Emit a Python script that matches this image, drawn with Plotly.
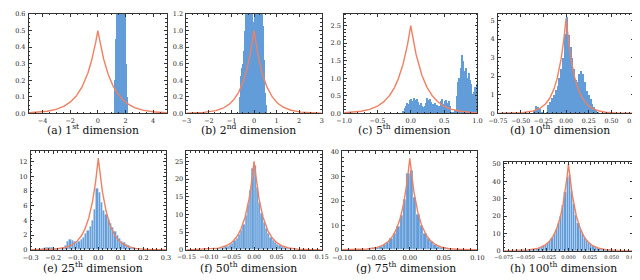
import numpy as np
import plotly.graph_objects as go

# ---------------- data ----------------
captions = ["(a) 1<sup>st</sup> dimension", "(b) 2<sup>nd</sup> dimension",
            "(c) 5<sup>th</sup> dimension", "(d) 10<sup>th</sup> dimension",
            "(e) 25<sup>th</sup> dimension", "(f) 50<sup>th</sup> dimension",
            "(g) 75<sup>th</sup> dimension", "(h) 100<sup>th</sup> dimension"]

# peak height of the reference Laplace density in each panel
laplace_peak = [0.5, 1.0, 2.5, 5.1, 12.5, 25.0, 37.5, 50.0]

# histogram bins: first edge, bin width, heights
a_start, a_width = 1.2, 0.05
a_values = [0.2, 0.45, 0.9, 1.5, 2.0, 2.3, 2.5, 2.4, 2.2, 2.3, 2.1, 1.9, 1.6, 1.2, 0.9, 0.5, 0.3, 0.1]

b_start, b_width = -0.625, 0.025
b_values = [0.2, 0.45, 0.35, 0.55, 0.45, 0.6, 0.55, 0.75, 0.8, 1.0, 1.15, 1.4, 0.8, 0.75,
            1.5, 1.8, 1.4, 2.0, 1.7, 1.9, 1.6, 2.1, 1.8, 1.1, 1.05, 1.1, 1.9, 1.7, 0.85, 0.9,
            2.0, 1.8, 2.1, 1.7, 1.9, 1.6, 1.5, 1.4, 1.3, 1.25, 1.2, 1.05, 0.85, 0.65, 0.45,
            0.25, 0.1]

c_start, c_width = -0.12, 0.02
c_values = [0.08, 0.15, 0.2, 0.3, 0.28, 0.38, 0.42, 0.35, 0.45, 0.38, 0.42, 0.32, 0.25, 0.3,
            0.22, 0.18, 0.2, 0.3, 0.45, 0.38, 0.42, 0.32, 0.28, 0.22, 0.3, 0.25, 0.18, 0.22,
            0.35, 0.4, 0.28, 0.35, 0.38, 0.3, 0.35, 0.2, 0.05, 0.02, 0.03, 0.1, 0.5, 0.9,
            1.0, 1.3, 1.65, 1.5, 1.2, 1.3, 1.0, 1.15, 0.95, 0.85, 0.55, 0.6, 0.75, 0.85]

d_start, d_width = -0.36, 0.02
d_values = [0.15, 0.4, 0.35, 0.25, 0.1, 0.03, 0.02, 0.1, 0.45, 0.6, 0.85, 1.0, 1.25, 1.5,
            1.9, 2.4, 3.0, 4.3, 5.2, 4.2, 3.6, 3.0, 2.4, 1.8, 1.7, 2.1, 2.3, 2.1, 1.7, 1.2,
            1.0, 0.8, 0.5, 0.35, 0.2, 0.08]

e_start, e_width = -0.25, 0.01
e_values = [0.25, 0.3, 0.35, 0.4, 0.35, 0.25, 0.15, 0.12, 0.15, 0.3, 0.6, 1.15, 1.4, 1.25,
            1.1, 1.0, 1.2, 1.45, 1.75, 2.2, 2.7, 3.2, 4.0, 5.5, 8.3, 7.8, 6.4, 5.4, 4.8, 4.2,
            3.6, 3.0, 2.5, 2.0, 1.6, 1.2, 0.95, 0.7, 0.55, 0.4, 0.3, 0.2, 0.12, 0.06, 0.03]

f_start, f_width = -0.1, 0.005
f_values = [0.09, 0.14, 0.2, 0.28, 0.38, 0.5, 0.68, 0.88, 1.12, 1.5, 1.95, 2.55, 3.3, 4.3,
            5.6, 7.3, 9.6, 12.8, 16.8, 23.0,
            23.8, 17.5, 13.5, 10.2, 7.8, 6.0, 4.6, 3.5, 2.7, 2.1, 1.6, 1.2, 0.95, 0.75, 0.55,
            0.42, 0.3, 0.22, 0.15, 0.1]

g_start, g_width = -0.08, 0.005
g_values = [0.1, 0.15, 0.24, 0.34, 0.5, 0.72, 1.05, 1.55, 2.25, 3.25, 4.6, 6.6, 9.6, 14.2,
            20.5, 31.5,
            32.5, 21.5, 14.6, 10.0, 6.8, 4.7, 3.3, 2.3, 1.6, 1.1, 0.75, 0.5, 0.35, 0.25, 0.15,
            0.1]

h_start, h_width = -0.055, 0.0025
h_values = [0.17, 0.24, 0.34, 0.44, 0.58, 0.78, 1.0, 1.28, 1.68, 2.15, 2.75, 3.55, 4.5, 5.8,
            7.5, 9.6, 12.3, 15.8, 20.2, 26.0, 33.5, 42.5,
            43.5, 34.5, 26.8, 20.6, 16.0, 12.5, 9.8, 7.6, 5.9, 4.6, 3.6, 2.8, 2.2, 1.7, 1.3,
            1.0, 0.8, 0.6, 0.45, 0.35, 0.25, 0.18]

hist_start = [a_start, b_start, c_start, d_start, e_start, f_start, g_start, h_start]
hist_width = [a_width, b_width, c_width, d_width, e_width, f_width, g_width, h_width]
hist_values = [a_values, b_values, c_values, d_values, e_values, f_values, g_values, h_values]

# axis settings
x_ranges = [[-5, 5], [-3, 3], [-1, 1], [-0.75, 0.75], [-0.3, 0.3], [-0.15, 0.15], [-0.1, 0.1], [-0.075, 0.075]]
x_dticks = [2, 1, 0.5, 0.25, 0.1, 0.05, 0.05, 0.025]
x_minor = [0.5, 0.25, 0.1, 0.05, 0.02, 0.01, 0.01, 0.005]
x_fmt = ["d", "d", ".1f", ".2f", ".1f", ".2f", ".2f", ".3f"]
y_ranges = [[0, 0.6], [0, 1.2], [0, 2.83], [0, 5.35], [0, 13.4], [0, 27.8], [0, 40.3], [0, 51]]
y_dticks = [0.1, 0.2, 0.5, 1, 2, 5, 10, 10]
y_minor = [0.025, 0.05, 0.1, 0.2, 0.5, 1, 2, 2]
y_fmt = [".1f", ".1f", ".1f", "d", "d", "d", "d", "d"]

# ---------------- layout (pixel boxes of each panel) ----------------
W, H = 640, 280
boxes = [(11, 153, 3, 105), (173, 312, 3, 105), (335, 472, 3, 105), (493, 633, 3, 105),
         (13, 152, 144, 245), (173, 312, 144, 245), (333, 472, 144, 245), (499, 632, 155, 246)]
cap_x = [77, 237, 397, 557, 77, 237, 399, 560]
cap_y = [122, 122, 122, 122, 263, 263, 263, 263]
x_tick_size = [6.5, 6.5, 6.5, 6.2, 6.5, 6.2, 6.5, 5.1]

BLUE = "rgb(98,157,217)"
ORANGE = "rgb(240,128,98)"
FONT = "DejaVu Serif"

fig = go.Figure()
layout = {}
for i in range(8):
    k = "" if i == 0 else str(i + 1)
    vals = hist_values[i]
    centers = hist_start[i] + hist_width[i] * (np.arange(len(vals)) + 0.5)
    edge = dict(width=0.5, color="rgba(255,255,255,0.45)") if i >= 4 else dict(width=0)
    fig.add_trace(go.Bar(x=centers, y=vals, width=hist_width[i], marker=dict(color=BLUE, line=edge),
                         xaxis="x" + k, yaxis="y" + k, showlegend=False))
    xs = np.linspace(x_ranges[i][0], x_ranges[i][1], 1201)
    p = laplace_peak[i]
    ys = p * np.exp(-2 * p * np.abs(xs))
    fig.add_trace(go.Scatter(x=xs, y=ys, mode="lines", line=dict(color=ORANGE, width=1.4),
                             xaxis="x" + k, yaxis="y" + k, showlegend=False))
    x0, x1, yt, yb = boxes[i]
    common = dict(showline=True, linecolor="#333", linewidth=0.8, mirror="ticks", ticks="inside",
                  ticklen=3, tickwidth=0.6, tickcolor="#333", showgrid=False, zeroline=False,
                  ticklabelstandoff=1)
    layout["xaxis" + k] = dict(common, domain=[x0 / W, x1 / W], range=x_ranges[i], anchor="y" + k,
                               dtick=x_dticks[i], tick0=0, tickformat=x_fmt[i], tickangle=0,
                               tickfont=dict(family=FONT, size=x_tick_size[i], color="#222"),
                               minor=dict(ticks="inside", dtick=x_minor[i], ticklen=1.6, tickwidth=0.5,
                                          tickcolor="#333"))
    layout["yaxis" + k] = dict(common, domain=[(H - yb) / H, (H - yt) / H], range=y_ranges[i],
                               anchor="x" + k, dtick=y_dticks[i], tick0=0, tickformat=y_fmt[i],
                               tickfont=dict(family=FONT, size=6.5, color="#222"),
                               minor=dict(ticks="inside", dtick=y_minor[i], ticklen=1.6, tickwidth=0.5,
                                          tickcolor="#333"))

annotations = [dict(text=captions[i], x=cap_x[i] / W, y=(H - cap_y[i]) / H, xref="paper", yref="paper",
                    showarrow=False, xanchor="center", yanchor="middle",
                    font=dict(family=FONT, size=10.8, color="#111")) for i in range(8)]

fig.update_layout(width=W, height=H, margin=dict(l=0, r=0, t=0, b=0), paper_bgcolor="white",
                  plot_bgcolor="white", bargap=0, annotations=annotations, **layout)
fig.write_html("out.html")
